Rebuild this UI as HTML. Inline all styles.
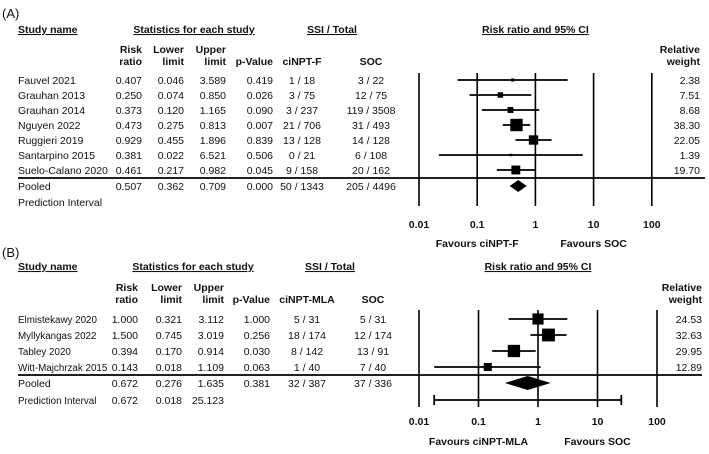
<!DOCTYPE html>
<html><head><meta charset="utf-8"><style>
body{margin:0;background:#fff;}
svg{display:block;font-family:"Liberation Sans",Arial,sans-serif;}
.t{font-size:10.5px;fill:#111;}
.h{font-size:10.5px;font-weight:bold;fill:#111;}
</style></head><body>
<svg id="c" width="709" height="454" viewBox="0 0 709 454"></svg>
<script>
// Panel A data
const studiesA = ["Fauvel 2021","Grauhan 2013","Grauhan 2014","Nguyen 2022","Ruggieri 2019","Santarpino 2015","Suelo-Calano 2020"];
const rrA = [0.407,0.250,0.373,0.473,0.929,0.381,0.461];
const loA = [0.046,0.074,0.120,0.275,0.455,0.022,0.217];
const hiA = [3.589,0.850,1.165,0.813,1.896,6.521,0.982];
const pA = ["0.419","0.026","0.090","0.007","0.839","0.506","0.045"];
const grpA = ["1 / 18","3 / 75","3 / 237","21 / 706","13 / 128","0 / 21","9 / 158"];
const socA = ["3 / 22","12 / 75","119 / 3508","31 / 493","14 / 128","6 / 108","20 / 162"];
const wA = [2.38,7.51,8.68,38.30,22.05,1.39,19.70];
const pooledA = [0.507,0.362,0.709];
const pooledTxtA = ["0.000","50 / 1343","205 / 4496"];
// Panel B data
const studiesB = ["Elmistekawy 2020","Myllykangas 2022","Tabley 2020","Witt-Majchrzak 2015"];
const rrB = [1.000,1.500,0.394,0.143];
const loB = [0.321,0.745,0.170,0.018];
const hiB = [3.112,3.019,0.914,1.109];
const pB = ["1.000","0.256","0.030","0.063"];
const grpB = ["5 / 31","18 / 174","8 / 142","1 / 40"];
const socB = ["5 / 31","12 / 174","13 / 91","7 / 40"];
const wB = [24.53,32.63,29.95,12.89];
const pooledB = [0.672,0.276,1.635];
const pooledTxtB = ["0.381","32 / 387","37 / 336"];
const predB = [0.672,0.018,25.123];
const ticks = [0.01,0.1,1,10,100];
const tickLabels = ["0.01","0.1","1","10","100"];

const svg = document.getElementById('c');
const NS = "http://www.w3.org/2000/svg";
function el(tag, attrs, parent){const e=document.createElementNS(NS,tag);for(const k in attrs)e.setAttribute(k,attrs[k]);(parent||svg).appendChild(e);return e;}
function txt(x,y,s,cls,anchor,name,ul){const e=el('text',{x:x,y:y,class:cls,'text-anchor':anchor||'start'});e.textContent=s;


if(ul)e.setAttribute('text-decoration','underline');return e;}
function fmt(v){return v.toFixed(3);}

function panel(cfg){
  const x = v => cfg.x1 + cfg.dec*(Math.log10(v)+2);
  txt(2,cfg.label,cfg.title,'t','start','panel-label').setAttribute('style','font-size:13px');
  const hy=cfg.hy;
  txt(18,hy,'Study name','h','start','study-name-header',true);
  txt(cfg.statsC,hy,'Statistics for each study','h','middle','statistics-header',true);
  txt(cfg.ssiC,hy,'SSI / Total','h','middle','ssi-header',true);
  txt(x(1),hy,'Risk ratio and 95% CI','h','middle','risk-ratio-header',true);
  const s1=cfg.sub1, s2=cfg.sub2;
  const cols=cfg.cols;
  txt(cols[0],s1,'Risk','h','end','col-risk');txt(cols[0],s2,'ratio','h','end','col-ratio');
  txt(cols[1],s1,'Lower','h','end','col-lower');txt(cols[1],s2,'limit','h','end','col-lower-limit');
  txt(cols[2],s1,'Upper','h','end','col-upper');txt(cols[2],s2,'limit','h','end','col-upper-limit');
  txt(cols[3],s2,'p-Value','h','end','col-p-value');
  txt(cols[4],s2,cfg.grpName,'h','middle','col-group');
  txt(cols[5],s2,'SOC','h','middle','col-soc');
  txt(cols[6],s1,'Relative','h','end','col-relative');txt(cols[6],s2,'weight','h','end','col-weight');
  ticks.forEach((t,i)=>{const l=el('line',{x1:x(t),x2:x(t),y1:cfg.gTop,y2:cfg.gBot,stroke:'#000','stroke-width':1.6});
    
    txt(x(t),cfg.tickY,tickLabels[i],'h','middle','tick-label');});
  cfg.studies.forEach((s,i)=>{
    const cy=cfg.r0+i*cfg.rh, by=cy+4;
    const nm=txt(18,by,s,'t','start','study-name');
    if(cfg.nameFs) nm.setAttribute('style','font-size:'+cfg.nameFs+'px');
    txt(cols[0],by,fmt(cfg.rr[i]),'t','end','risk-ratio-value');
    txt(cols[1],by,fmt(cfg.lo[i]),'t','end','lower-value');
    txt(cols[2],by,fmt(cfg.hi[i]),'t','end','upper-value');
    txt(cols[3],by,cfg.p[i],'t','end','p-value');
    txt(cols[4],by,cfg.grp[i],'t','middle','group-events');
    txt(cols[5],by,cfg.soc[i],'t','middle','soc-events');
    txt(cols[6],by,cfg.w[i].toFixed(2),'t','end','relative-weight');
    const l=el('line',{x1:x(cfg.lo[i]),x2:x(cfg.hi[i]),y1:cy,y2:cy,stroke:'#000','stroke-width':1.8});
    
    const sz=Math.max(2.5,cfg.sq*Math.sqrt(cfg.w[i]));
    const r=el('rect',{x:x(cfg.rr[i])-sz/2,y:cy-sz/2,width:sz,height:sz,fill:'#000'});
    
  });
  const ly=cfg.lineY;
  const hl=el('line',{x1:18,x2:cfg.lineR,y1:ly,y2:ly,stroke:'#000','stroke-width':1.8});
  
  const py=ly+8, pb=py+4;
  txt(18,pb,'Pooled','t','start','pooled-label');
  txt(cols[0],pb,fmt(cfg.pooled[0]),'t','end','pooled-rr');
  txt(cols[1],pb,fmt(cfg.pooled[1]),'t','end','pooled-lower');
  txt(cols[2],pb,fmt(cfg.pooled[2]),'t','end','pooled-upper');
  txt(cols[3],pb,cfg.pooledTxt[0],'t','end','pooled-p');
  txt(cols[4],pb,cfg.pooledTxt[1],'t','middle','pooled-group');
  txt(cols[5],pb,cfg.pooledTxt[2],'t','middle','pooled-soc');
  const dh=cfg.dh;
  const d=el('polygon',{points:`${x(cfg.pooled[1])},${py} ${x(cfg.pooled[0])},${py-dh} ${x(cfg.pooled[2])},${py} ${x(cfg.pooled[0])},${py+dh}`,fill:'#000'});
  
  const qy=py+cfg.rh+1;
  const pil=txt(18,qy+4,'Prediction Interval','t','start','prediction-interval-label');
  if(cfg.nameFs) pil.setAttribute('style','font-size:'+cfg.nameFs+'px');
  if(cfg.pred){
    txt(cols[0],qy+4,fmt(cfg.pred[0]),'t','end','pi-rr');
    txt(cols[1],qy+4,fmt(cfg.pred[1]),'t','end','pi-lower');
    txt(cols[2],qy+4,fmt(cfg.pred[2]),'t','end','pi-upper');
    const a=x(cfg.pred[1]),b=x(cfg.pred[2]);
    const pl=el('path',{d:`M${a},${qy}H${b}M${a},${qy-5}V${qy+5}M${b},${qy-5}V${qy+5}`,stroke:'#000','stroke-width':1.8,fill:'none'});
    
  }
  txt(x(0.1),cfg.favY,cfg.favL,'h','middle','favours-left');
  txt(x(10),cfg.favY,'Favours SOC','h','middle','favours-right');
}
panel({title:'(A)',label:18,hy:33,statsC:194,ssiC:332,sub1:53,sub2:65,
  cols:[142,184,226,273,302,371,700],grpName:'ciNPT-F',x1:419,dec:58.2,gTop:73,gBot:206,tickY:228,
  studies:studiesA,rr:rrA,lo:loA,hi:hiA,p:pA,grp:grpA,soc:socA,w:wA,r0:80,rh:15,sq:2.0,
  lineY:178,lineR:705,pooled:pooledA,pooledTxt:pooledTxtA,dh:6,pred:null,favY:247,favL:'Favours ciNPT-F'});
panel({title:'(B)',label:257,hy:270,statsC:193,ssiC:330,sub1:291,sub2:303,
  cols:[138,182,224,270,307,373,702],grpName:'ciNPT-MLA',x1:419,dec:59.5,gTop:310,gBot:407,tickY:425,
  studies:studiesB,rr:rrB,lo:loB,hi:hiB,p:pB,grp:grpB,soc:socB,w:wB,r0:319,rh:16,sq:2.25,nameFs:9.8,
  lineY:375,lineR:702,pooled:pooledB,pooledTxt:pooledTxtB,dh:7,pred:predB,favY:445,favL:'Favours ciNPT-MLA'});
</script>
</body></html>
